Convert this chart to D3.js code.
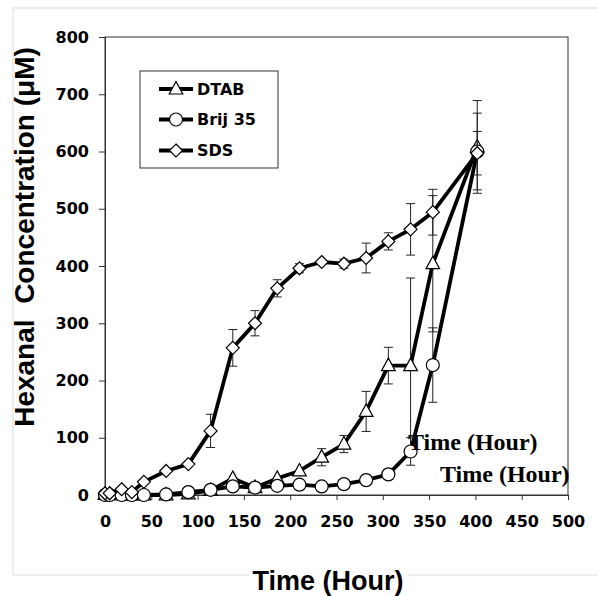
<!DOCTYPE html>
<html>
<head>
<meta charset="utf-8">
<script src="https://cdn.jsdelivr.net/npm/d3@7"></script>
<style>
  body { margin: 0; background: #fff; }
  svg { display: block; }
</style>
</head>
<body>
<div id="chart"></div>
<script>
// Hexanal concentration over time, three surfactants
const times = [0, 5, 18, 29, 42, 66, 90, 114, 138, 162, 186, 210, 234, 258, 282, 306, 330, 354, 402]
const dtab = [1, 1, 0, 0, 0, 0, 2, 8, 29, 13, 29, 42, 66, 89, 146, 226, 226, 404, 608]
const dtabErr = [0, 0, 0, 0, 0, 0, 0, 0, 0, 0, 0, 0, 15, 15, 35, 32, 153, 119, 81]
const brij = [0, 0, 0, 0, 0, 1, 5, 9, 15, 13, 16, 18, 15, 19, 26, 36, 76, 227, 600]
const brijErr = [0, 0, 0, 0, 0, 0, 0, 0, 0, 0, 0, 0, 0, 0, 0, 0, 24, 65, 67]
const sds = [3, 3, 10, 5, 23, 42, 54, 112, 257, 300, 361, 396, 407, 404, 414, 443, 464, 494, 597]
const sdsErr = [0, 0, 0, 0, 0, 0, 0, 29, 32, 22, 15, 8, 4, 8, 26, 15, 45, 40, 38]
const seriesNames = ['DTAB', 'Brij 35', 'SDS']
const xTicks = [0, 50, 100, 150, 200, 250, 300, 350, 400, 450, 500]
const yTicks = [0, 100, 200, 300, 400, 500, 600, 700, 800]

const w = 598
const h = 596
const pLeft = 105, pRight = 568, pTop = 37, pBottom = 495

const series = [
  { name: seriesNames[0], values: dtab, err: dtabErr, shape: 'triangle' },
  { name: seriesNames[1], values: brij, err: brijErr, shape: 'circle' },
  { name: seriesNames[2], values: sds, err: sdsErr, shape: 'diamond' }
]

const xScale = d3.scaleLinear().domain([0, 500]).range([pLeft, pRight])
const yScale = d3.scaleLinear().domain([0, 800]).range([pBottom, pTop])

const svg = d3.select('#chart')
  .append('svg')
  .attr('width', w)
  .attr('height', h)

// faint outer frame
svg.append('rect')
  .attr('x', 13).attr('y', 8)
  .attr('width', 620).attr('height', 567)
  .attr('fill', 'none')
  .attr('stroke', '#dcdcdc')
  .attr('stroke-width', 1)

// plot frame
svg.append('rect')
  .attr('x', pLeft).attr('y', pTop)
  .attr('width', pRight - pLeft).attr('height', pBottom - pTop)
  .attr('fill', '#fff')
  .attr('stroke', '#333')
  .attr('stroke-width', 1)

// axes
const xAxis = d3.axisBottom(xScale).tickValues(xTicks).tickSize(5).tickPadding(16)
const gx = svg.append('g')
  .attr('transform', `translate(0, ${pBottom})`)
  .call(xAxis)
const yAxis = d3.axisLeft(yScale).tickValues(yTicks).tickSize(6).tickPadding(10)
const gy = svg.append('g')
  .attr('transform', `translate(${pLeft}, 0)`)
  .call(yAxis)

;[gx, gy].forEach(g => {
  g.select('.domain').attr('stroke', '#333')
  g.selectAll('.tick line').attr('stroke', '#333')
  g.selectAll('.tick text')
    .attr('fill', '#000')
    .style('font-family', 'DejaVu Sans')
    .style('font-weight', 'bold')
    .style('font-size', '16px')
})

// symbol helper
function marker(sel, shape) {
  if (shape === 'circle') {
    sel.append('circle').attr('r', 6.5)
  } else if (shape === 'triangle') {
    sel.append('path').attr('d', 'M0,-7.5L6.8,5L-6.8,5Z')
  } else {
    sel.append('path').attr('d', 'M0,-6.5L6.5,0L0,6.5L-6.5,0Z')
  }
  sel.selectAll('circle, path')
    .attr('fill', '#fff')
    .attr('stroke', '#000')
    .attr('stroke-width', 1.2)
}

const line = d3.line()
  .x((d, i) => xScale(times[i]))
  .y(d => yScale(d))

series.forEach(s => {
  const g = svg.append('g')

  g.append('path')
    .datum(s.values)
    .attr('d', line)
    .attr('fill', 'none')
    .attr('stroke', '#000')
    .attr('stroke-width', 3.8)
    .attr('stroke-linejoin', 'round')

  // error bars
  const bars = s.values.map((v, i) => ({ t: times[i], v: v, e: s.err[i] })).filter(d => d.e > 0)
  const eb = g.selectAll('.err')
    .data(bars)
    .enter()
    .append('g')
  eb.append('line')
    .attr('x1', d => xScale(d.t)).attr('x2', d => xScale(d.t))
    .attr('y1', d => yScale(d.v - d.e)).attr('y2', d => yScale(d.v + d.e))
  eb.append('line')
    .attr('x1', d => xScale(d.t) - 4.5).attr('x2', d => xScale(d.t) + 4.5)
    .attr('y1', d => yScale(d.v + d.e)).attr('y2', d => yScale(d.v + d.e))
  eb.append('line')
    .attr('x1', d => xScale(d.t) - 4.5).attr('x2', d => xScale(d.t) + 4.5)
    .attr('y1', d => yScale(d.v - d.e)).attr('y2', d => yScale(d.v - d.e))
  eb.selectAll('line').attr('stroke', '#222').attr('stroke-width', 1)

  g.selectAll('.pt')
    .data(s.values)
    .enter()
    .append('g')
    .attr('transform', (d, i) => `translate(${xScale(times[i])}, ${yScale(d)})`)
    .each(function() { marker(d3.select(this), s.shape) })
})

// legend
const legend = svg.append('g')
legend.append('rect')
  .attr('x', 140).attr('y', 71)
  .attr('width', 138).attr('height', 97)
  .attr('fill', '#fff')
  .attr('stroke', '#333')
  .attr('stroke-width', 1)
const rows = [89, 119.5, 150.5]
series.forEach((s, i) => {
  const r = legend.append('g').attr('transform', `translate(0, ${rows[i]})`)
  r.append('line')
    .attr('x1', 159).attr('x2', 193)
    .attr('stroke', '#000').attr('stroke-width', 3.8)
  const m = r.append('g').attr('transform', 'translate(176, 0)')
  marker(m, s.shape)
  r.append('text')
    .attr('x', 197).attr('y', 5.8)
    .style('font-family', 'DejaVu Sans')
    .style('font-weight', 'bold')
    .style('font-size', '16px')
    .text(s.name)
})

// stray annotations inside the plot
const notes = [[408, 450], [440, 482]]
notes.forEach(n => {
  svg.append('text')
    .attr('x', n[0]).attr('y', n[1])
    .style('font-family', 'Liberation Serif')
    .style('font-weight', 'bold')
    .style('font-size', '24px')
    .text('Time (Hour)')
})

// axis titles
const xt = svg.append('text')
  .attr('x', 328).attr('y', 590)
  .attr('text-anchor', 'middle')
  .style('font-family', 'Liberation Sans')
  .style('font-weight', 'bold')
  .style('font-size', '27px')
  .text('Time (Hour)')
const bb = xt.node().getBBox()
svg.insert('rect', () => xt.node())
  .attr('x', bb.x - 4).attr('y', bb.y)
  .attr('width', bb.width + 8).attr('height', bb.height)
  .attr('fill', '#fff')

svg.append('text')
  .attr('transform', 'rotate(-90)')
  .attr('x', -237).attr('y', 34)
  .attr('text-anchor', 'middle')
  .style('font-family', 'Liberation Sans')
  .style('font-weight', 'bold')
  .style('font-size', '28px')
  .style('white-space', 'pre')
  .text('Hexanal  Concentration (μM)')
</script>
</body>
</html>
